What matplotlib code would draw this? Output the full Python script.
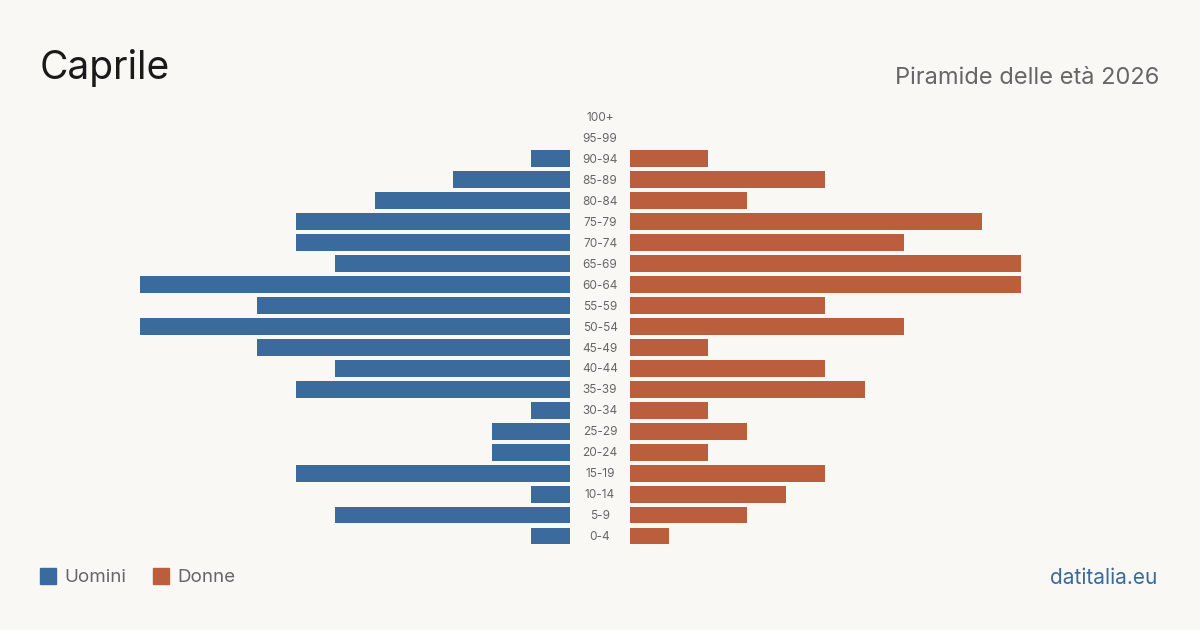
import matplotlib.pyplot as plt
from matplotlib.patches import Rectangle
import matplotlib.transforms as mtransforms

plt.rcParams['font.family'] = ['Inter', 'DejaVu Sans']

# Age groups (bottom to top) and counts
age_groups = ['0-4', '5-9', '10-14', '15-19', '20-24', '25-29', '30-34', '35-39',
              '40-44', '45-49', '50-54', '55-59', '60-64', '65-69', '70-74',
              '75-79', '80-84', '85-89', '90-94', '95-99', '100+']
men = [1, 6, 1, 7, 2, 2, 1, 7, 6, 8, 11, 8, 11, 6, 7, 7, 5, 3, 1, 0, 0]
women = [1, 3, 4, 5, 2, 3, 2, 6, 5, 2, 7, 5, 10, 10, 7, 9, 3, 5, 2, 0, 0]

bg = '#f9f8f4'
blue = '#3b6b9c'
orange = '#bb5e3e'
max_val = 11

fig = plt.figure(figsize=(12, 6.3), dpi=100, facecolor=bg)

bottom = (630 - 546.5) / 630
height = 440 / 630
ax_l = fig.add_axes([140 / 1200, bottom, 430 / 1200, height])
ax_r = fig.add_axes([630 / 1200, bottom, 430 / 1200, height])

y = list(range(len(age_groups)))
ax_l.barh(y, men, height=0.8, color=blue)
ax_r.barh(y, women, height=0.8, color=orange)

ax_l.set_xlim(max_val, 0)
ax_r.set_xlim(0, max_val)
for ax in (ax_l, ax_r):
    ax.set_ylim(-0.5, len(age_groups) - 0.5)
    ax.set_facecolor(bg)
    ax.axis('off')

# Age labels in the gap between the two halves
trans = mtransforms.blended_transform_factory(fig.transFigure, ax_l.transData)
for i, label in enumerate(age_groups):
    ax_l.text(600 / 1200, i - 0.05, label, transform=trans, ha='center', va='center',
              fontsize=8.5, color='#666666', clip_on=False)

# Title and subtitle
fig.text(40 / 1200, 1 - 68 / 630, 'Caprile', fontsize=28, color='#1a1a1a',
         ha='left', va='center')
fig.text(1159 / 1200, 1 - 78 / 630, 'Piramide delle età 2026', fontsize=17,
         color='#666666', ha='right', va='center')

# Legend
fig.patches.append(Rectangle((40 / 1200, 1 - 584 / 630), 16 / 1200, 16 / 630,
                             transform=fig.transFigure, color=blue))
fig.text(64 / 1200, 1 - 578 / 630, 'Uomini', fontsize=13.5, color='#666666',
         ha='left', va='center')
fig.patches.append(Rectangle((153 / 1200, 1 - 584 / 630), 16 / 1200, 16 / 630,
                             transform=fig.transFigure, color=orange))
fig.text(177 / 1200, 1 - 578 / 630, 'Donne', fontsize=13.5, color='#666666',
         ha='left', va='center')

fig.text(1157 / 1200, 1 - 578 / 630, 'datitalia.eu', fontsize=15, color=blue,
         ha='right', va='center')

plt.savefig('out.png', dpi=100, facecolor=bg)
